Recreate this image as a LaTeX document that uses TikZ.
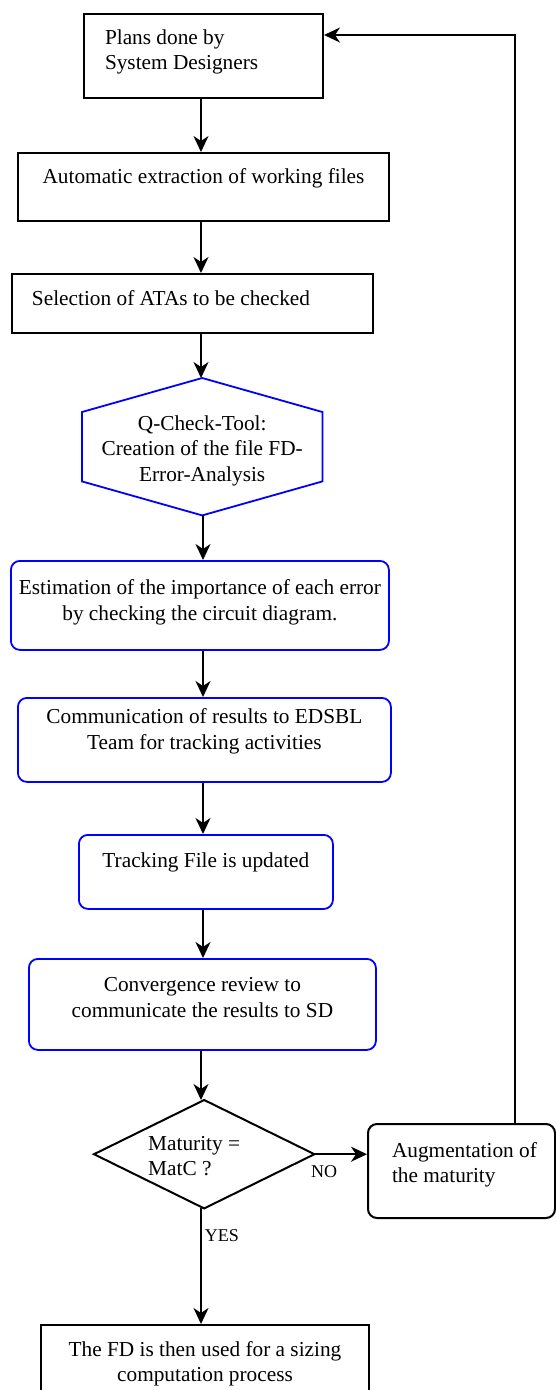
\documentclass[tikz,border=0pt]{standalone}
\usepackage{fontspec}
\setmainfont{Liberation Serif}
\usetikzlibrary{arrows.meta}
\newcommand\bt[5]{\parbox[c][#2pt][t]{#1pt}{#4\vspace*{\dimexpr#3pt-17.85pt\relax}\strut#5\par}}
\begin{document}
\begin{tikzpicture}[x=1pt,y=-1pt,
  mainfont/.style={font=\fontsize{21.3}{25.5}\selectfont},
  box/.style={draw=black,line width=2pt,inner sep=0pt,mainfont},
  rbox/.style={draw=black,line width=2pt,rounded corners=9pt,inner sep=0pt,mainfont},
  bbox/.style={draw=blue,line width=1.8pt,rounded corners=9pt,inner sep=0pt,mainfont},
  txt/.style={inner sep=0pt,mainfont},
  bline/.style={draw=blue,line width=1.8pt,line join=miter},
  kline/.style={draw=black,line width=2pt,line join=miter},
  arr/.style={line width=2pt,-{Stealth[length=16pt,width=15pt,inset=5pt]}},
  back/.style={line width=1.7pt,-{Stealth[length=16pt,width=15pt,inset=5pt]}},
  lbl/.style={inner sep=0pt,font=\fontsize{18}{21}\selectfont}]
\useasboundingbox (0,0) rectangle (556,1390);

\node[box,anchor=north west] (b1) at (83,13)
  {\bt{239}{84}{30}{\raggedright\leftskip=21pt\relax}{Plans done by\\System Designers}};
\node[box,anchor=north west] (b2) at (17,152)
  {\bt{371}{68}{30}{\centering}{Automatic extraction of working files}};
\node[box,anchor=north west] (b3) at (11,273)
  {\bt{361}{59}{31}{\raggedright\leftskip=20pt\relax}{Selection of ATAs to be checked}};
\node[txt,anchor=north west] (hx) at (82,378)
  {\bt{240}{137}{52}{\centering}{Q-Check-Tool:\\Creation of the file FD-\\Error-Analysis}};
\draw[bline] (hx.north) -- ([yshift=-34pt]hx.north east) -- ([yshift=34pt]hx.south east)
  -- (hx.south) -- ([yshift=34pt]hx.south west) -- ([yshift=-34pt]hx.north west) -- cycle;
\node[bbox,anchor=north west] (b5) at (10,560)
  {\bt{378}{89}{34}{\centering}{Estimation of the importance of each error\\by checking the circuit diagram.}};
\node[bbox,anchor=north west] (b6) at (17,697)
  {\bt{373}{84}{26}{\centering}{Communication of results to EDSBL\\Team for tracking activities}};
\node[bbox,anchor=north west] (b7) at (78,834)
  {\bt{254}{74}{33}{\centering}{Tracking File is updated}};
\node[bbox,anchor=north west] (b8) at (28,958)
  {\bt{347}{91}{33}{\centering}{Convergence review to\\communicate the results to SD}};
\node[txt,anchor=north west] (dm) at (94,1100)
  {\bt{220}{108}{50}{\raggedright\leftskip=54pt\relax}{Maturity =\\MatC ?}};
\draw[kline] (dm.north) -- (dm.east) -- (dm.south) -- (dm.west) -- cycle;
\node[rbox,anchor=north west] (ag) at (367,1123)
  {\bt{187}{94}{33}{\raggedright\leftskip=24pt\relax}{Augmentation of\\the maturity}};
\node[box,anchor=north west] (fin) at (40,1324)
  {\bt{328}{100}{31}{\centering}{The FD is then used for a sizing\\computation process}};

\node[lbl] (no) at (324,1172) {NO};
\node[lbl] (yes) at (222,1236) {YES};

\draw[arr] (b1.south -| 201,0) -- (b2.north -| 201,0);
\draw[arr] (b2.south -| 201,0) -- (b3.north -| 201,0);
\draw[arr] (b3.south -| 201,0) -- (hx.north -| 201,0);
\draw[arr] (hx.south -| 203,0) -- (b5.north -| 203,0);
\draw[arr] (b5.south -| 203,0) -- (b6.north -| 203,0);
\draw[arr] (b6.south -| 203,0) -- (b7.north -| 203,0);
\draw[arr] (b7.south -| 203,0) -- (b8.north -| 203,0);
\draw[arr] (b8.south -| 201,0) -- (dm.north -| 201,0);
\draw[arr] (dm.east) -- (ag.west |- dm.east);
\draw[arr] (dm.south -| 201,0) -- (fin.north -| 201,0);
\draw[back] (ag.north -| 515,0) |- (b1.east |- 0,35);
\end{tikzpicture}
\end{document}
